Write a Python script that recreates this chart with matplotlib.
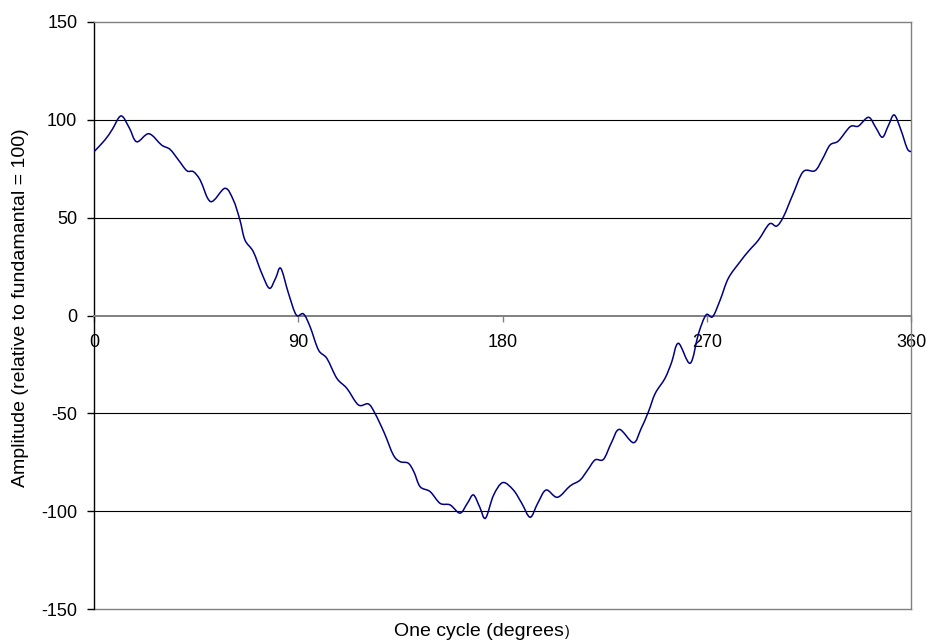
import numpy as np
import matplotlib
matplotlib.use("Agg")
import matplotlib.pyplot as plt
from matplotlib.path import Path
from matplotlib.patches import PathPatch

plt.rcParams['font.family'] = ['Liberation Sans', 'DejaVu Sans']

# Readings (degrees, amplitude)
degrees = [0, 4.8, 8, 11.9, 15.5, 18.8, 24.2, 29.8, 33.5, 37.2, 40.9, 43.8, 46.8,
           51.4, 57.7, 61.4, 64.3, 66.5, 70.2, 73.9, 77.3, 80, 82.3, 85.7, 89.1,
           92.3, 95.2, 98.9, 102.6, 107, 111.4, 116.5, 120.9, 123.8, 127.9, 131.9,
           134.9, 138.5, 141, 143.7, 148.1, 152.5, 156.9, 161.3, 164.5, 167.2, 170,
           172.5, 176, 180.1, 184.8, 188.5, 192.2, 195.5, 199.2, 204.2, 209.8, 214.2,
           217.5, 220.8, 224.5, 228, 231.5, 237.7, 241, 244.3, 247.3, 251.6, 254.5,
           257.5, 262.7, 266.4, 269.7, 272.6, 275.9, 279.5, 284.7, 288.5, 292.8,
           297.6, 300.8, 303.8, 308, 312.5, 317.7, 321, 324.3, 328, 333.2, 336.8,
           341.3, 344.5, 347.4, 350, 352.6, 355.5, 358.3, 360]
amplitude = [83.7, 89.7, 95, 102, 96, 88.8, 92.9, 87.1, 84.9, 79.5, 74, 73.5, 69.2,
             58.2, 65, 59, 48.8, 38.6, 32.6, 21.6, 13.9, 19, 24.1, 11.3, 0.3,
             0.8, -5.7, -17.6, -21.9, -32.1, -37.2, -45.7, -45.2, -50, -60, -71.3,
             -74.7, -75.5, -80, -87.5, -90, -96, -96.8, -101, -96, -91.7, -98,
             -103.6, -92, -85.4, -89.2, -96, -103.1, -96, -89.2, -92.9, -87.1, -84.1,
             -79, -73.8, -73.5, -65, -58.2, -65, -58, -49.2, -39.8, -32.1, -24,
             -14.2, -24.4, -9.1, 0.3, -0.6, 7.9, 19, 27.5, 33, 38.6,
             46.8, 45.7, 50.5, 62, 73.5, 74, 80, 87.1, 89.2, 96.5, 96.8,
             101.3, 96, 91.1, 97, 102.5, 95, 85.4, 83.7]

x_ticks = [0, 90, 180, 270, 360]
y_ticks = [-150, -100, -50, 0, 50, 100, 150]

fig = plt.figure(figsize=(9.32, 6.42), dpi=100)
ax = fig.add_axes([94 / 932, 1 - 609 / 642, (911 - 94) / 932, (609 - 22) / 642])
ax.set_xlim(0, 360)
ax.set_ylim(-150, 150)

# gridlines
for y in [-100, -50, 50, 100]:
    ax.axhline(y, color='black', lw=0.8, zorder=1)
ax.axhline(-150, color='#808080', lw=1.0, zorder=1, clip_on=False)

# smooth curve through the read points (Catmull-Rom as Bezier path)
P = np.column_stack([degrees, amplitude])
n = len(P)
verts = [tuple(P[0])]
codes = [Path.MOVETO]
for i in range(n - 1):
    p0 = P[i - 1] if i > 0 else P[i]
    p1 = P[i]
    p2 = P[i + 1]
    p3 = P[i + 2] if i + 2 < n else P[i + 1]
    c1 = p1 + (p2 - p0) / 6.0
    c2 = p2 - (p3 - p1) / 6.0
    verts += [tuple(c1), tuple(c2), tuple(p2)]
    codes += [Path.CURVE4] * 3
ax.add_patch(PathPatch(Path(verts, codes), fill=False, edgecolor='#000080', lw=1.1, zorder=3))

# spines
ax.spines['left'].set_color('black')
ax.spines['left'].set_linewidth(1.0)
ax.spines['bottom'].set_position(('data', 0))
ax.spines['bottom'].set_color('#808080')
ax.spines['bottom'].set_linewidth(1.4)
ax.spines['top'].set_color('#808080')
ax.spines['top'].set_linewidth(1.0)
ax.spines['right'].set_color('#808080')
ax.spines['right'].set_linewidth(1.0)

ax.set_xticks(x_ticks)
ax.set_xticklabels([str(t) for t in x_ticks])
ax.set_yticks(y_ticks)
ax.set_yticklabels([str(t) for t in y_ticks])
ax.tick_params(axis='x', direction='out', length=4, width=1, color='#808080', pad=9, labelsize=13)
ax.tick_params(axis='y', direction='out', length=5, width=1, color='black', pad=7, labelsize=13)

fig.text(21 / 932, 1 - 308 / 642, 'Amplitude (relative to fundamantal = 100)',
         rotation=90, ha='center', va='center', fontsize=14)
fig.text(564 / 932, 1 - 631 / 642, 'One cycle (degrees', ha='right', va='center', fontsize=14)
fig.text(565 / 932, 1 - 632 / 642, ')', ha='left', va='center', fontsize=10)

fig.savefig('out.png', dpi=100)
